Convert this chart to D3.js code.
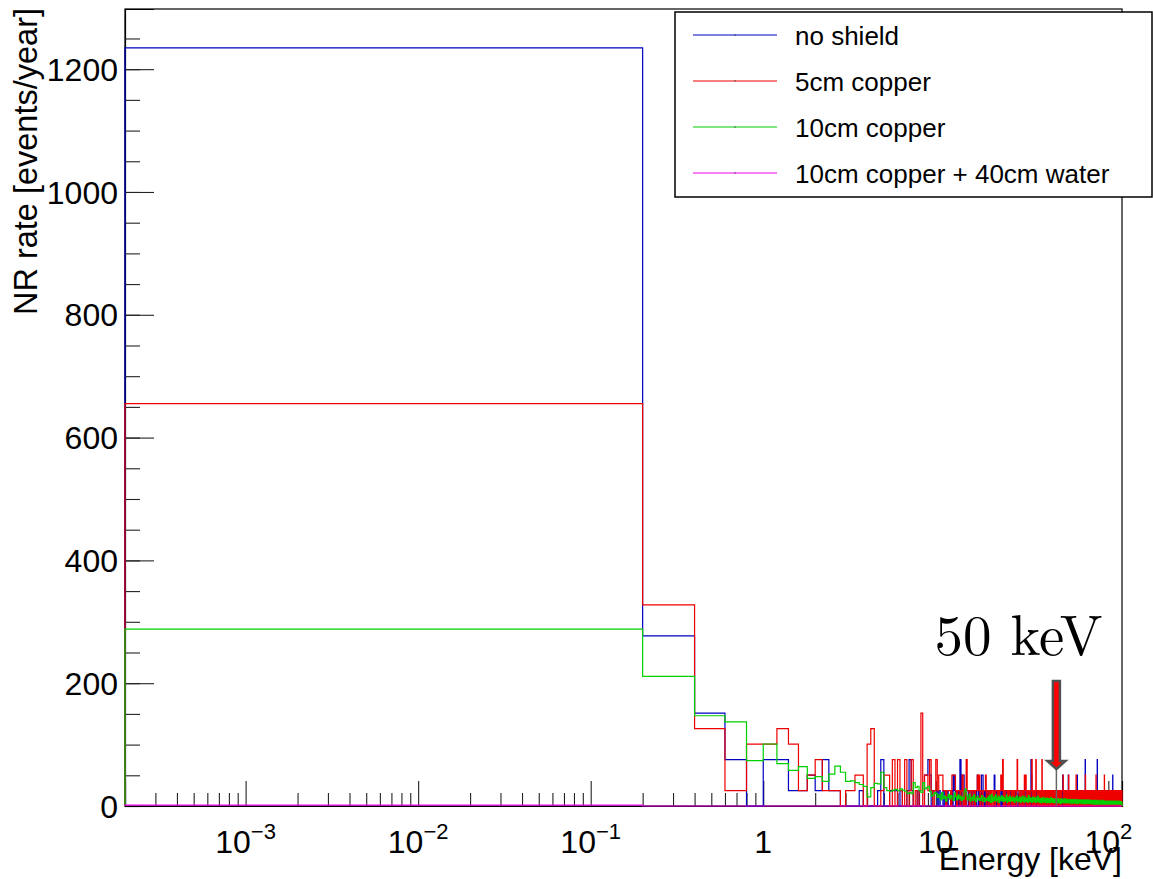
<!DOCTYPE html>
<html>
<head>
<meta charset="utf-8">
<script src="https://cdn.jsdelivr.net/npm/d3@7"></script>
<style>
  body { margin: 0; background: #fff; }
  text { font-family: "Liberation Sans", Arial, Helvetica, sans-serif; fill: #000; }
</style>
</head>
<body>
<svg></svg>
<script>
// histogram bins: 0.2 keV wide, 0 .. 120 keV
const binWidth = 0.2;
const nBins = 600;
const eMin = 2e-4;
const eMax = 120;

// one MC count in events/year (no shield, 5cm copper)
const countRate = 25.2;

const seriesNames = ["no shield", "5cm copper", "10cm copper", "10cm copper + 40cm water"];
const seriesColors = ["#0000c0", "#ee0000", "#00d000", "#ee00ee"];

// no shield, counts per bin
const noShieldCounts = [
  49,11,6,3,0,3,3,1,1,2, 1,3,1,1,0,0,0,0,1,0, 0,0,0,1,3,0,0,1,1,1, 0,1,0,0,1,3,1,0,0,1, 0,0,0,2,2,3,2,0,1,1,
  1,0,1,0,0,1,0,0,1,0, 0,1,0,2,1,0,0,1,0,3, 0,2,2,0,1,0,0,1,0,0, 1,0,0,1,0,0,1,2,0,1, 0,0,2,2,1,0,1,0,0,1,
  0,1,0,0,1,0,0,0,1,2, 0,0,1,0,0,1,0,0,0,1, 0,1,0,0,0,1,0,0,1,0, 1,0,0,0,1,0,0,1,0,0, 0,1,0,0,1,0,0,1,0,0,
  0,0,1,0,0,1,0,0,0,1, 0,0,1,0,0,0,1,0,0,0, 1,0,0,0,1,0,0,0,3,2, 0,0,1,0,0,0,1,0,0,1, 0,0,0,1,0,0,0,1,0,0,
  0,1,0,0,0,1,0,0,1,0, 0,0,1,0,0,0,0,1,0,0, 1,0,0,0,1,0,0,0,0,1, 0,0,0,1,0,0,1,0,0,0, 1,0,0,0,0,1,0,0,1,0,
  0,0,1,0,0,1,0,0,0,1, 0,0,1,0,0,1,0,0,1,0, 0,0,2,0,0,1,0,0,1,0, 0,1,0,0,0,1,0,0,1,0, 1,0,0,2,0,0,0,1,0,0,
  0,1,0,0,1,0,0,0,1,0, 0,1,0,0,0,1,0,0,1,0, 0,0,1,0,0,0,0,1,0,0, 2,0,0,0,1,0,0,1,0,0, 0,1,0,0,1,0,0,0,1,0,
  0,0,1,0,0,1,0,0,0,1, 0,1,0,0,1,0,0,3,0,0, 0,0,1,0,0,1,0,0,1,0, 0,0,0,1,0,0,1,0,0,0, 1,0,0,0,0,1,0,0,1,0,
  0,1,0,0,0,1,0,0,1,0, 0,0,1,0,0,0,1,0,0,1, 0,0,1,0,0,0,0,1,0,0, 0,3,0,0,0,1,0,0,0,1, 0,0,1,0,0,0,1,0,0,0,
  0,0,1,0,0,1,0,0,0,1, 0,1,0,0,0,0,1,0,0,0, 1,0,0,0,0,0,1,0,0,1, 0,0,0,1,0,0,0,0,1,0, 0,1,0,0,0,0,1,0,0,0,
  0,1,0,0,0,1,0,0,1,0, 0,0,1,0,0,0,1,0,0,0, 1,0,0,0,1,0,0,0,0,0, 2,0,0,1,0,0,0,1,0,0, 0,1,0,0,0,1,0,0,0,1,
  0,0,1,0,0,0,1,0,0,0, 1,0,0,1,0,0,0,1,0,0, 0,1,0,0,0,0,1,0,0,1, 0,0,0,1,0,0,0,0,1,0, 0,1,0,0,0,1,0,0,0,0
];

// 5cm copper, counts per bin
const copper5Counts = [
  26,13,5,1,4,4,5,4,1,2, 3,1,1,1,0,1,1,2,2,0, 4,5,0,0,1,2,2,0,3,0, 3,1,0,3,0,1,3,0,1,0, 1,6,0,2,2,1,3,1,0,1,
  3,1,2,2,2,1,1,0,1,1, 1,0,2,2,2,1,0,1,1,0, 1,2,0,1,0,3,1,1,0,1, 1,0,1,1,0,1,1,2,1,2, 0,1,1,0,1,1,1,2,0,1,
  1,0,1,1,0,1,1,0,1,1, 0,1,1,1,0,1,0,1,1,2, 1,1,3,0,1,1,0,1,1,1, 0,1,1,0,1,1,1,0,1,0, 1,1,0,1,1,1,0,1,3,1,
  1,1,0,1,1,0,1,1,1,0, 1,1,0,2,1,1,2,0,1,1, 0,1,1,1,0,1,1,0,1,1, 3,1,0,1,1,0,1,1,1,0, 3,1,1,1,0,1,1,0,1,1,
  1,0,1,1,1,0,3,1,0,1, 1,0,1,1,0,1,1,1,0,1, 1,0,1,1,0,1,0,1,1,1, 0,1,1,0,1,1,0,1,1,1, 0,1,0,1,1,1,0,1,1,0,
  1,1,0,1,1,0,1,1,1,0, 1,1,0,1,1,0,1,1,0,1, 1,1,1,2,1,0,1,1,0,1, 1,0,1,1,1,0,1,1,0,1, 0,1,1,0,2,1,1,0,1,1,
  1,0,1,1,0,1,1,1,0,1, 1,0,1,1,1,0,1,1,0,1, 1,1,0,1,1,2,1,0,1,1, 0,1,1,1,0,1,1,0,1,1, 1,0,1,1,0,1,1,1,0,1,
  1,1,0,1,1,0,1,1,1,0, 1,0,1,1,0,1,1,1,2,0, 1,1,0,1,1,0,1,1,0,1, 1,1,0,1,1,1,0,1,1,0, 1,0,1,1,1,0,1,1,0,1,
  1,0,1,1,0,1,1,1,0,1, 1,1,0,1,1,0,1,1,1,0, 1,1,0,1,2,1,0,1,1,0, 1,1,1,0,1,1,0,1,1,1, 0,1,1,0,1,1,1,0,1,1,
  1,1,0,1,1,0,1,1,0,1, 1,0,1,1,1,0,1,1,0,1, 1,1,0,1,2,1,0,1,1,0, 1,1,0,1,1,1,0,1,1,0, 1,0,1,1,0,1,1,1,0,1,
  1,0,1,1,0,1,1,1,0,1, 1,1,0,1,1,0,1,1,0,1, 1,0,1,1,1,0,1,1,0,1, 1,1,0,1,1,0,1,1,1,0, 1,0,1,1,0,1,1,0,1,1,
  1,1,0,1,1,0,1,1,1,0, 1,0,1,1,0,1,1,0,1,1, 1,1,0,1,1,1,0,1,1,0, 1,0,1,1,0,1,1,1,0,1, 1,1,0,1,1,0,1,1,0,1
];

// 10cm copper, events/year per bin (weighted)
const copper10Rates = [
  288,211,147,137,74,101,69,58,64,45, 48,40,52,65,55,40,41,38,35,32, 15,30,37,36,55,30,25,24,26,27, 25,28,26,24,20,22,20,38,30,32, 25,22,38,28,30,32,24,16,18,22,
  20,14,18,10,22,12,16,8,14,19, 11,17,13,9,21,15,10,18,12,16, 9,14,11,24,28,17,10,13,19,8, 12,15,9,18,11,7,14,16,10,12, 9,13,17,8,11,14,7,12,10,9,
  14,8,17,10,6,19,11,7,15,9, 12,18,7,13,10,16,6,14,9,12, 17,8,11,15,7,10,13,9,18,6, 11,14,8,12,16,7,10,13,9,15, 8,12,10,6,14,9,11,16,7,10,
  12,7,15,9,11,6,14,10,8,16, 9,13,6,11,15,8,10,7,13,9, 12,6,17,10,8,14,7,11,9,13, 6,12,10,15,7,9,13,8,11,6, 14,9,7,12,10,16,8,11,6,13,
  10,6,13,8,11,5,12,9,7,14, 8,11,6,10,13,7,9,12,5,10, 8,13,6,11,9,7,12,5,10,8, 11,6,14,9,7,10,12,6,9,11, 7,10,5,12,8,9,11,6,10,7,
  9,5,11,7,10,6,12,8,5,10, 7,11,6,9,4,10,8,12,6,9, 5,10,7,11,8,6,9,5,10,7, 12,6,8,10,5,9,7,11,6,8, 10,5,9,7,11,6,8,10,5,9,
  8,5,10,6,9,4,11,7,6,9, 5,10,7,8,4,9,6,10,5,8, 7,11,5,9,6,8,4,10,7,6, 9,5,8,10,4,7,9,6,8,5, 10,6,7,9,5,8,6,10,4,7,
  8,4,9,6,7,5,10,6,4,8, 7,5,9,4,8,6,10,5,7,4, 9,6,8,5,7,10,4,6,8,5, 7,9,4,6,8,5,10,6,7,4, 8,5,9,6,4,7,8,5,9,6,
  7,4,8,5,9,3,7,6,4,8, 5,9,4,7,6,3,8,5,7,4, 9,6,3,7,5,8,4,6,9,3, 7,5,8,4,6,7,3,8,5,6, 4,9,5,7,3,6,8,4,7,5,
  6,4,8,3,7,5,9,4,6,3, 8,5,7,4,6,3,9,5,4,7, 3,6,8,4,5,7,3,6,4,8, 5,3,7,6,4,8,3,5,7,4, 6,3,8,5,4,7,3,6,5,4,
  6,3,7,4,8,3,5,6,3,7, 4,8,3,5,6,4,7,3,5,8, 3,6,4,7,3,5,8,4,6,3, 7,4,5,3,8,6,3,5,7,4, 3,6,4,8,3,5,7,3,6,4,
  5,3,7,4,6,3,8,4,5,3, 6,4,7,3,5,6,3,8,4,5, 3,7,4,6,3,5,7,3,6,4, 5,3,8,4,6,3,5,7,3,4, 6,3,5,7,4,3,6,5,3,6
];

// 10cm copper + 40cm water: only the first bin is not empty
const waterRates = [1.5];

const yMax = 1298;
const arrowEnergy = 50;

let width = 1153;
let height = 879;
let frame = { left: 125, right: 1122, top: 9, bottom: 806 };

let svg = d3.select("svg")
    .attr("width", width)
    .attr("height", height);

let x = d3.scaleLog()
    .domain([eMin, eMax])
    .range([frame.left, frame.right]);

let y = d3.scaleLinear()
    .domain([0, yMax])
    .range([frame.bottom, frame.top]);

// frame
svg.append("rect")
    .attr("x", frame.left)
    .attr("y", frame.top)
    .attr("width", frame.right - frame.left)
    .attr("height", frame.bottom - frame.top)
    .attr("fill", "none")
    .attr("stroke", "#000")
    .attr("stroke-width", 1.2);

// y axis, ticks point inwards like ROOT
let yAxis = svg.append("g")
    .attr("transform", `translate(${frame.left},0)`)
    .call(d3.axisLeft(y)
        .tickValues(d3.range(0, 1201, 200))
        .tickSize(-29)
        .tickPadding(7)
        .tickFormat(d3.format("d")));

svg.append("g")
    .attr("transform", `translate(${frame.left},0)`)
    .call(d3.axisLeft(y)
        .tickValues(d3.range(0, yMax, 50))
        .tickSize(-15)
        .tickFormat(""))
    .select(".domain").remove();

yAxis.selectAll("text")
    .style("font-size", "32px")
    .attr("dy", "0.35em");

// x axis, log
let xMajor = [1e-3, 1e-2, 1e-1, 1, 10, 100];
let xLabels = [["10", "\u22123"], ["10", "\u22122"], ["10", "\u22121"], ["1", ""], ["10", ""], ["10", "2"]];
let xMinor = [];
for (let p = -4; p <= 2; p++) {
    for (let m = 2; m <= 9; m++) {
        let v = m * Math.pow(10, p);
        if (v > eMin && v < eMax) xMinor.push(v);
    }
}

svg.append("g")
    .attr("transform", `translate(0,${frame.bottom})`)
    .call(d3.axisBottom(x)
        .tickValues(xMajor)
        .tickSize(-25)
        .tickFormat(""));

svg.append("g")
    .attr("transform", `translate(0,${frame.bottom})`)
    .call(d3.axisBottom(x)
        .tickValues(xMinor)
        .tickSize(-13)
        .tickFormat(""))
    .select(".domain").remove();

svg.selectAll(".tick line").attr("stroke", "#222").attr("stroke-width", 1.1);
svg.selectAll(".domain").attr("stroke", "#000").attr("stroke-width", 1.2);

let xLab = svg.append("g")
    .selectAll("text")
    .data(xMajor)
    .enter()
    .append("text")
    .attr("x", d => x(d))
    .attr("y", 853)
    .attr("text-anchor", "middle")
    .style("font-size", "32px");

xLab.append("tspan").text((d, i) => xLabels[i][0]);
xLab.append("tspan")
    .attr("dy", -14)
    .style("font-size", "22px")
    .text((d, i) => xLabels[i][1]);

// axis titles
svg.append("text")
    .attr("x", frame.right)
    .attr("y", 870)
    .attr("text-anchor", "end")
    .style("font-size", "32px")
    .text("Energy [keV]");

svg.append("text")
    .attr("transform", "rotate(-90)")
    .attr("x", -8)
    .attr("y", 37)
    .attr("text-anchor", "end")
    .style("font-size", "32.5px")
    .text("NR rate [events/year]");

// histograms
let histPath = (vals, scale) => {
    let pts = [[x(eMin), y(0)]];
    for (let i = 0; i < nBins; i++) {
        let v = (vals[i] || 0) * scale;
        let lo = Math.max(i * binWidth, eMin);
        let hi = (i + 1) * binWidth;
        pts.push([x(lo), y(v)], [x(hi), y(v)]);
    }
    pts.push([x(eMax), y(0)]);
    return d3.line()(pts);
};

let hists = [
    [noShieldCounts, countRate],
    [copper5Counts, countRate],
    [copper10Rates, 1],
    [waterRates, 1]
];

svg.append("g")
    .selectAll("path")
    .data(hists)
    .enter()
    .append("path")
    .attr("d", d => histPath(d[0], d[1]))
    .attr("fill", "none")
    .attr("stroke", (d, i) => seriesColors[i])
    .attr("stroke-width", 1.2)
    .attr("stroke-linejoin", "miter");

// 50 keV marker
let ax = x(arrowEnergy);
svg.append("line")
    .attr("x1", ax).attr("x2", ax)
    .attr("y1", 768).attr("y2", frame.bottom)
    .attr("stroke", "#666")
    .attr("stroke-width", 1.5);

svg.append("polygon")
    .attr("points", [
        [ax - 3.5, 681], [ax + 3.5, 681], [ax + 3.5, 761], [ax + 9, 761],
        [ax, 769], [ax - 9, 761], [ax - 3.5, 761]
    ].join(" "))
    .attr("fill", "#ff0000")
    .attr("stroke", "#505050")
    .attr("stroke-width", 2.5);

svg.append("text")
    .attr("x", ax + 46)
    .attr("y", 655)
    .attr("text-anchor", "end")
    .style("font-family", "'Latin Modern Roman', 'Liberation Serif', 'DejaVu Serif', serif")
    .style("font-size", "57px")
    .text("50 keV");

// legend
let leg = svg.append("g");

leg.append("rect")
    .attr("x", 675)
    .attr("y", 12)
    .attr("width", 477)
    .attr("height", 185)
    .attr("fill", "#fff")
    .attr("stroke", "#000")
    .attr("stroke-width", 1.5);

let entry = leg.selectAll(".entry")
    .data(seriesNames)
    .enter()
    .append("g")
    .attr("class", "entry")
    .attr("transform", (d, i) => `translate(0,${35 + i * 46})`);

entry.append("line")
    .attr("x1", 693).attr("x2", 777)
    .attr("y1", 0).attr("y2", 0)
    .attr("stroke", (d, i) => seriesColors[i])
    .attr("stroke-width", 1.2);

entry.append("rect")
    .attr("x", 734.5).attr("y", -0.5)
    .attr("width", 1).attr("height", 1)
    .attr("fill", "#000");

entry.append("text")
    .attr("x", 795)
    .attr("y", 10)
    .style("font-size", "26px")
    .text(d => d);
</script>
</body>
</html>
